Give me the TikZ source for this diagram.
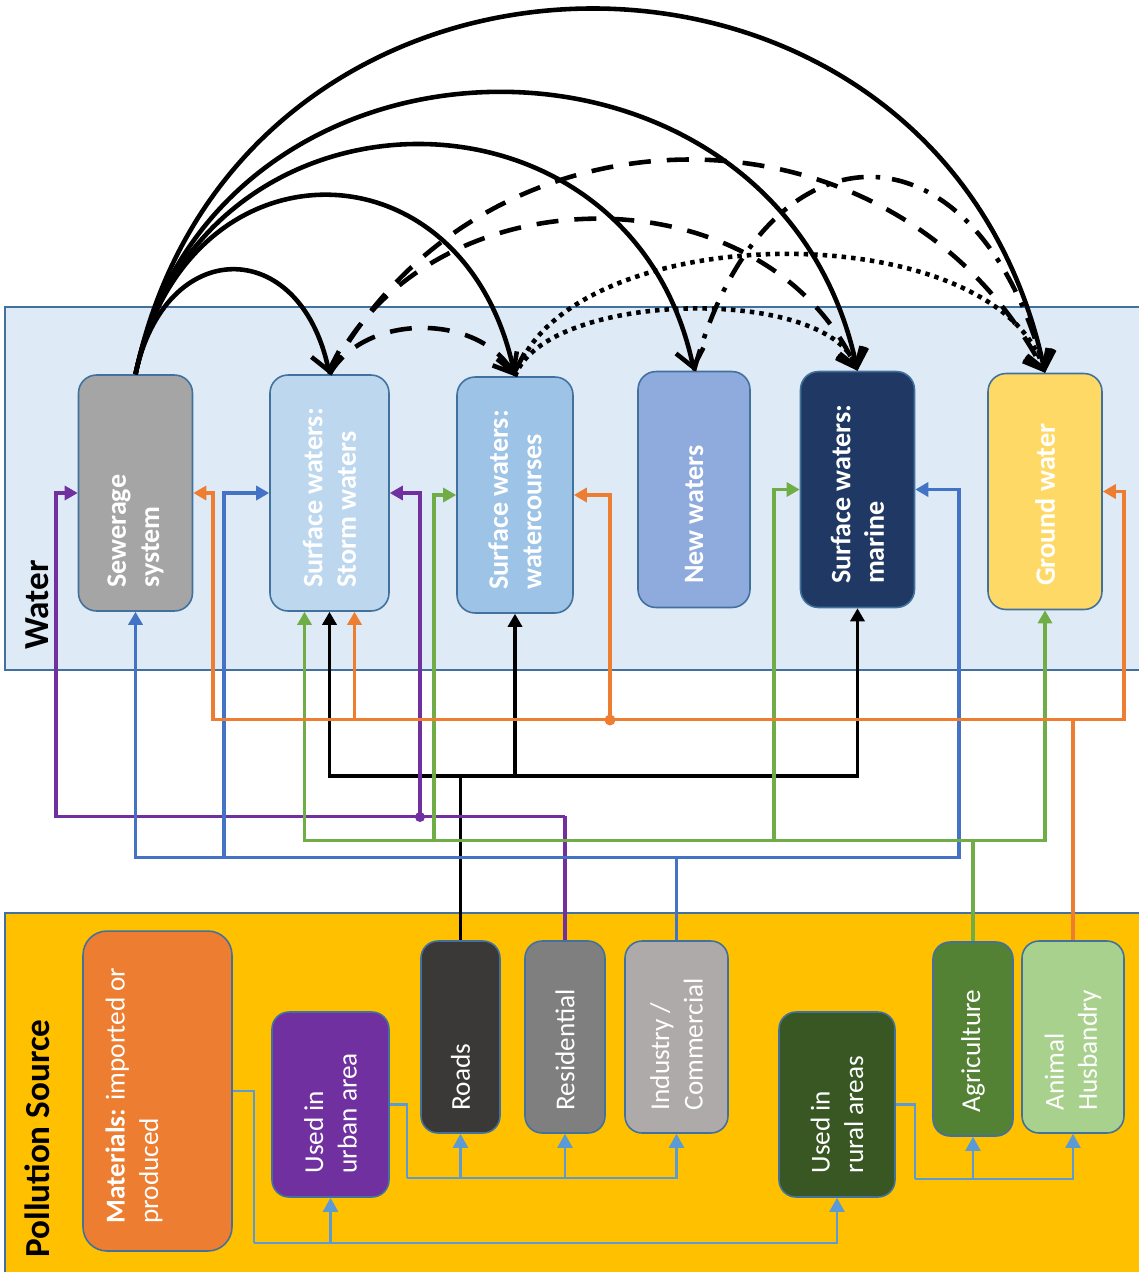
\documentclass[tikz,border=0pt]{standalone}
\usepackage{fontspec}
\setmainfont{Carlito}
\usetikzlibrary{arrows.meta}

\definecolor{edgeblue}{HTML}{41719C}
\definecolor{waterbg}{HTML}{DEEBF7}
\definecolor{sourcebg}{HTML}{FFC000}
\definecolor{sewfill}{HTML}{A5A5A5}
\definecolor{stormfill}{HTML}{BDD7EE}
\definecolor{wcfill}{HTML}{9DC3E6}
\definecolor{newfill}{HTML}{8FAADC}
\definecolor{marfill}{HTML}{203864}
\definecolor{gndfill}{HTML}{FFD966}
\definecolor{matfill}{HTML}{ED7D31}
\definecolor{urbfill}{HTML}{7030A0}
\definecolor{roadfill}{HTML}{3B3838}
\definecolor{resfill}{HTML}{7F7F7F}
\definecolor{indfill}{HTML}{AEAAAA}
\definecolor{rurfill}{HTML}{385723}
\definecolor{agrfill}{HTML}{548235}
\definecolor{anifill}{HTML}{A9D18E}
\definecolor{purp}{HTML}{7030A0}
\definecolor{blu}{HTML}{4472C4}
\definecolor{orng}{HTML}{ED7D31}
\definecolor{grn}{HTML}{70AD47}
\definecolor{skyline}{HTML}{5B9BD5}

\begin{document}
\begin{tikzpicture}[
    x=0.02cm, y=0.02cm,
    >={Triangle[length=0.26cm,width=0.28cm]},
    panel/.style={draw=edgeblue, line width=1pt},
    wbox/.style={draw=edgeblue, line width=0.9pt, rounded corners=0.36cm, minimum width=2.28cm, minimum height=4.72cm, inner sep=0pt},
    pbox/.style={draw=edgeblue, line width=0.9pt, rounded corners=0.34cm, inner sep=0pt},
    ptext/.style={rotate=90, anchor=west, align=left, text=white, inner sep=0pt, font=\fontsize{15.5}{19}\selectfont},
    wtext/.style={ptext, font=\bfseries\fontsize{16}{19}\selectfont},
    paneltext/.style={rotate=90, anchor=west, inner sep=0pt, font=\bfseries\fontsize{20}{24}\selectfont},
    kline/.style={line width=2.1pt},
    pline/.style={purp, line width=1.8pt},
    bline/.style={blu, line width=1.9pt},
    gline/.style={grn, line width=1.8pt},
    oline/.style={orng, line width=1.9pt},
    sline/.style={skyline, line width=1.2pt, >={Triangle[length=0.28cm,width=0.3cm]}},
    solidarc/.style={line width=2.6pt, line join=round, -{Straight Barb[length=0.34cm,width=0.56cm]}},
    dasharc/.style={solidarc, dash pattern=on 0.44cm off 0.32cm},
    dotarc/.style={solidarc, dash pattern=on 0.09cm off 0.1cm},
    dashdotarc/.style={solidarc, dash pattern=on 0.44cm off 0.24cm on 0.09cm off 0.24cm}
]
\useasboundingbox (0,0) rectangle (1139,-1272);

% Panels
\draw[panel, fill=waterbg] (5,-307) rectangle (1150,-670);
\draw[panel, fill=sourcebg] (5,-913) rectangle (1150,-1290);
\node[paneltext] (waterlbl) at (37,-650) {Water};
\node[paneltext] (sourcelbl) at (37,-1258) {Pollution Source};

% Water nodes
\node[wbox, fill=sewfill] (sew) at (135.5,-493) {};
\node[wbox, fill=stormfill, minimum width=2.38cm] (storm) at (329.5,-493) {};
\node[wbox, fill=wcfill, minimum width=2.32cm] (wcourse) at (515,-495) {};
\node[wbox, fill=newfill, minimum width=2.24cm] (newwat) at (694,-489.5) {};
\node[wbox, fill=marfill] (marine) at (857.5,-489.5) {};
\node[wbox, fill=gndfill] (ground) at (1045,-491.5) {};

\node[wtext] (sewtxt) at ([yshift=0.48cm]sew.south) {Sewerage\\system};
\node[wtext] (stormtxt) at ([yshift=0.48cm]storm.south) {Surface waters:\\Storm waters};
\node[wtext] (wcoursetxt) at ([yshift=0.48cm]wcourse.south) {Surface waters:\\watercourses};
\node[wtext] (newwattxt) at ([yshift=0.48cm]newwat.south) {New waters};
\node[wtext] (marinetxt) at ([yshift=0.48cm]marine.south) {Surface waters:\\marine};
\node[wtext] (groundtxt) at ([yshift=0.48cm]ground.south) {Ground water};

% Source nodes
\node[pbox, fill=matfill, minimum width=2.98cm, minimum height=6.4cm, rounded corners=0.48cm] (mat) at (157.5,-1091) {};
\node[pbox, fill=urbfill, minimum width=2.34cm, minimum height=3.7cm] (urban) at (330.5,-1104.5) {};
\node[pbox, fill=roadfill, minimum width=1.58cm, minimum height=3.84cm] (roads) at (460.5,-1037) {};
\node[pbox, fill=resfill, minimum width=1.6cm, minimum height=3.84cm] (resid) at (565,-1037) {};
\node[pbox, fill=indfill, minimum width=2.06cm, minimum height=3.84cm] (indus) at (676.5,-1037) {};
\node[pbox, fill=rurfill, minimum width=2.32cm, minimum height=3.7cm] (rural) at (837,-1104.5) {};
\node[pbox, fill=agrfill, minimum width=1.6cm, minimum height=3.88cm] (agri) at (973,-1039) {};
\node[pbox, fill=anifill, minimum width=2.04cm, minimum height=3.84cm] (animal) at (1073,-1037) {};

\node[ptext] (mattxt) at ([xshift=-0.47cm, yshift=0.56cm]mat.south) {\textbf{Materials:} imported or\\produced};
\node[ptext] (urbantxt) at ([yshift=0.48cm]urban.south) {Used in\\urban area};
\node[ptext] (roadstxt) at ([yshift=0.46cm]roads.south) {Roads};
\node[ptext] (residtxt) at ([yshift=0.46cm]resid.south) {Residential};
\node[ptext] (industxt) at ([yshift=0.46cm]indus.south) {Industry /\\Commercial};
\node[ptext] (ruraltxt) at ([yshift=0.48cm]rural.south) {Used in\\rural areas};
\node[ptext] (agritxt) at ([yshift=0.48cm]agri.south) {Agriculture};
\node[ptext] (animaltxt) at ([yshift=0.46cm]animal.south) {Animal\\Husbandry};

% Source links
\draw[sline] (mat.east) -- ++(21,0) -- ++(0,-152) coordinate (mj);
\draw[sline,->] (mj) -| (urban.south);
\draw[sline,->] (mj) -| (rural.south);
\draw[sline] (urban.east) -- ++(17,0) -- ++(0,-73.5) coordinate (uj);
\draw[sline,->] (uj) -| (roads.south);
\draw[sline,->] (uj) -| (resid.south);
\draw[sline,->] (uj) -| (indus.south);
\draw[sline] (rural.east) -- ++(19,0) -- ++(0,-74.5) coordinate (rj);
\draw[sline,->] (rj) -| (agri.south);
\draw[sline,->] (rj) -| (animal.south);

% Roads
\draw[kline] (roads.north) -- ++(0,164) coordinate (kj);
\draw[kline,->] (kj) -| (storm.south);
\draw[kline,->] (kj) -| (wcourse.south);
\draw[kline,->] (kj) -| (marine.south);

% Residential
\draw[pline] (resid.north) -- ++(0,124) coordinate (pj);
\draw[pline,->] (pj) -- ++(-509,0) |- (sew.west);
\draw[pline,->] (pj) -- ++(-145,0) |- (storm.east);
\fill[purp] (420,-817) circle (0.1cm);

% Industry / Commercial
\draw[bline] (indus.north) -- ++(0,83) coordinate (bj);
\draw[bline,->] (bj) -| (sew.south);
\draw[bline,->] (bj) -- ++(-452.5,0) |- (storm.west);
\draw[bline,->] (bj) -- ++(282.5,0) |- (marine.east);

% Agriculture
\draw[gline] (agri.north) -- ++(0,101) coordinate (gj);
\draw[gline,->] (gj) -| ([xshift=-0.5cm]storm.south);
\draw[gline,->] (gj) -- ++(-539,0) |- (wcourse.west);
\draw[gline,->] (gj) -- ++(-199,0) |- (marine.west);
\draw[gline,->] (gj) -| (ground.south);

% Animal Husbandry
\draw[oline] (animal.north) -- ++(0,221) coordinate (oj);
\draw[oline,->] (oj) -- ++(-860,0) |- (sew.east);
\draw[oline,->] (oj) -| ([xshift=0.5cm]storm.south);
\draw[oline,->] (oj) -- ++(-463,0) |- (wcourse.east);
\draw[oline,->] (oj) -- ++(51,0) |- (ground.east);
\fill[orng] (610,-720) circle (0.11cm);

% Arcs
\draw[solidarc] (sew.north) to[out=78,in=102,looseness=1.88] (storm.north);
\draw[solidarc] (sew.north) to[out=78,in=102,looseness=1.65] (wcourse.north);
\draw[solidarc] (sew.north) to[out=78,in=102,looseness=1.42] (newwat.north);
\draw[solidarc] (sew.north) to[out=78,in=102,looseness=1.35] (marine.north);
\draw[solidarc] (sew.north) to[out=78,in=102,looseness=1.40] (ground.north);

\draw[dasharc] (storm.north) to[out=60,in=120,looseness=0.99] (wcourse.north);
\draw[dasharc] (storm.north) to[out=65,in=115,looseness=1.09] (marine.north);
\draw[dasharc] (storm.north) to[out=62,in=118,looseness=1.15] (ground.north);

\draw[dotarc] (wcourse.north) to[out=70,in=110,looseness=0.68] (marine.north);
\draw[dotarc] (wcourse.north) to[out=72,in=108,looseness=0.81] (ground.north);

\draw[dashdotarc] (newwat.north) to[out=75,in=105,looseness=1.95] (ground.north);

\end{tikzpicture}
\end{document}
